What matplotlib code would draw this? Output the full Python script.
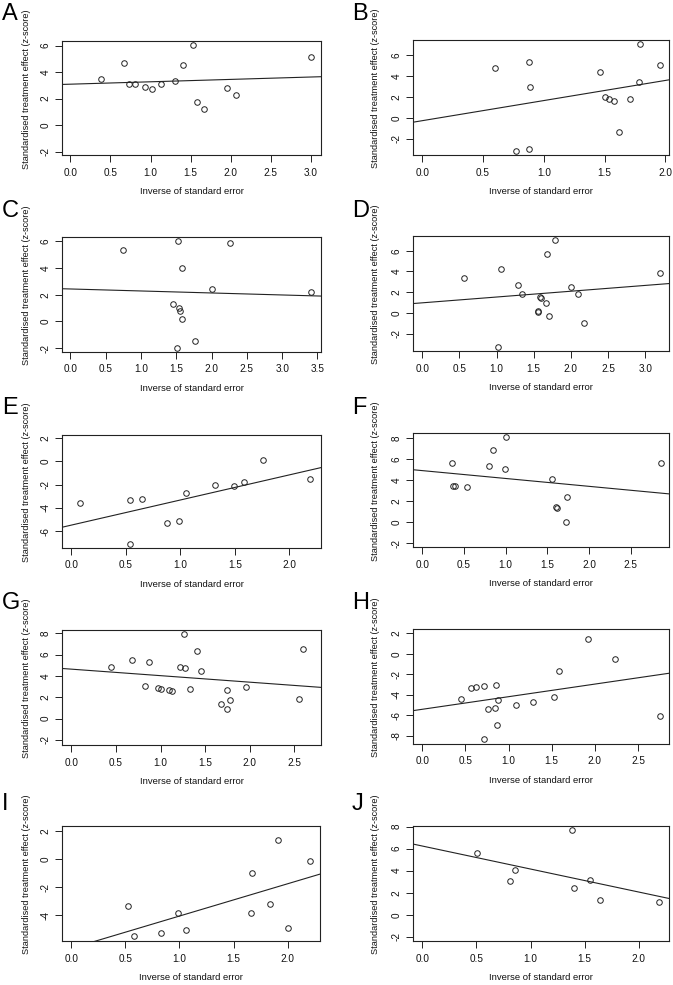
import matplotlib
matplotlib.use("Agg")
import matplotlib.pyplot as plt
from matplotlib.ticker import MultipleLocator

plt.rcParams['font.family'] = ['Liberation Sans', 'DejaVu Sans']

letters = ['A', 'B', 'C', 'D', 'E', 'F', 'G', 'H', 'I', 'J']

# inverse of standard error (x) and z-score (y) per panel
x_A = [0.38, 0.67, 0.73, 0.80, 0.93, 1.02, 1.13, 1.30, 1.40, 1.53, 1.58, 1.67, 1.95, 2.07, 3.00]
z_A = [3.47, 4.68, 3.14, 3.09, 2.87, 2.74, 3.12, 3.30, 4.50, 6.04, 1.74, 1.21, 2.84, 2.26, 5.16]

x_B = [0.60, 0.88, 0.89, 0.77, 0.88, 1.46, 1.50, 1.54, 1.58, 1.71, 1.62, 1.78, 1.79, 1.96]
z_B = [4.73, 5.27, 2.92, -3.11, -2.95, 4.32, 2.00, 1.84, 1.65, 1.81, -1.37, 3.40, 7.02, 5.05]

x_C = [0.75, 1.53, 1.58, 2.26, 2.01, 3.41, 1.46, 1.54, 1.56, 1.58, 1.76, 1.51]
z_C = [5.38, 6.00, 4.03, 5.88, 2.43, 2.18, 1.33, 1.00, 0.75, 0.20, -1.45, -1.98]

x_D = [0.56, 1.06, 1.29, 1.34, 1.56, 1.56, 1.58, 1.60, 1.68, 1.78, 1.67, 1.71, 2.00, 2.10, 2.18, 1.02, 3.20]
z_D = [3.32, 4.19, 2.68, 1.81, 0.16, 0.10, 1.58, 1.45, 5.68, 7.00, 0.94, -0.29, 2.45, 1.81, -1.00, -3.29, 3.84]

x_E = [0.08, 0.54, 0.65, 0.54, 0.88, 0.99, 1.05, 1.32, 1.49, 1.58, 1.76, 2.19]
z_E = [-3.56, -3.36, -3.28, -7.15, -5.28, -5.17, -2.70, -2.02, -2.16, -1.82, 0.14, -1.50]

x_F = [0.35, 0.37, 0.39, 0.54, 0.80, 0.85, 1.00, 0.99, 1.55, 1.60, 1.62, 1.74, 1.72, 2.86]
z_F = [5.65, 3.47, 3.44, 3.34, 5.34, 6.89, 8.09, 5.11, 4.11, 1.45, 1.35, 2.39, 0.03, 5.59]

x_G = [0.45, 0.68, 0.83, 0.87, 0.97, 1.01, 1.09, 1.13, 1.22, 1.26, 1.28, 1.33, 1.41, 1.45,
       1.68, 1.75, 1.75, 1.78, 1.96, 2.55, 2.60]
z_G = [4.88, 5.50, 3.08, 5.32, 2.86, 2.80, 2.68, 2.61, 4.88, 7.90, 4.75, 2.74, 6.32, 4.48,
       1.36, 2.68, 0.90, 1.77, 3.01, 1.86, 6.57]

x_H = [0.45, 0.56, 0.62, 0.71, 0.72, 0.76, 0.84, 0.85, 0.87, 0.88, 1.09, 1.28, 1.53, 1.59,
       1.92, 2.23, 2.76]
z_H = [-4.42, -3.34, -3.27, -3.17, -8.32, -5.39, -5.33, -3.02, -6.92, -4.48, -5.00, -4.74,
       -4.19, -1.65, 1.45, -0.47, -6.07]

x_I = [0.52, 0.58, 0.83, 0.99, 1.06, 1.66, 1.67, 1.84, 1.91, 2.00, 2.21]
z_I = [-3.34, -5.49, -5.28, -3.81, -5.00, -3.79, -0.95, -3.17, 1.36, -4.90, -0.15]

x_J = [0.51, 0.81, 0.86, 1.38, 1.40, 1.55, 1.64, 2.19]
z_J = [5.64, 3.09, 4.09, 7.70, 2.42, 3.18, 1.36, 1.12]

# fitted line (intercept, slope) per panel
intercepts = [3.09, -0.26, 2.43, 0.97, -5.49, 4.91, 4.64, -5.42, -6.34, 6.24]
slopes = [0.18, 1.91, -0.15, 0.56, 2.16, -0.75, -0.61, 1.23, 2.30, -2.09]

xs = [x_A, x_B, x_C, x_D, x_E, x_F, x_G, x_H, x_I, x_J]
zs = [z_A, z_B, z_C, z_D, z_E, z_F, z_G, z_H, z_I, z_J]

xlims = [(-0.104, 3.125), (-0.077, 2.03), (-0.118, 3.55), (-0.125, 3.32), (-0.086, 2.29),
         (-0.112, 2.96), (-0.105, 2.80), (-0.108, 2.86), (-0.087, 2.30), (-0.086, 2.28)]
ylims = [(-2.24, 6.34), (-3.52, 7.40), (-2.30, 6.33), (-3.68, 7.42), (-7.46, 2.26),
         (-2.38, 8.50), (-2.47, 8.31), (-8.81, 2.42), (-5.82, 2.38), (-2.39, 8.06)]

W, H = 673, 985
# axes boxes in pixels: left, top, right, bottom
boxes = [(62, 41, 321, 155), (413, 40, 669, 155),
         (62, 237, 321, 352), (413, 236, 669, 351),
         (62, 435, 321, 548), (413, 433, 669, 547),
         (62, 630, 321, 745), (413, 629, 669, 744),
         (62, 826, 320, 941), (413, 826, 669, 941)]
letter_tops = [3, 3, 200, 200, 397, 397, 592, 592, 793, 793]

ink = '#222222'
fig = plt.figure(figsize=(W / 100, H / 100), dpi=100)

for i in range(10):
    l, t, r, b = boxes[i]
    ax = fig.add_axes([l / W, 1 - b / H, (r - l) / W, (b - t) / H])
    ax.plot(xs[i], zs[i], 'o', ms=4.0, mfc='none', mec=ink, mew=0.7, clip_on=False)
    x0, x1 = xlims[i]
    ax.plot([x0, x1], [intercepts[i] + slopes[i] * x0, intercepts[i] + slopes[i] * x1],
            color=ink, lw=0.8)
    ax.set_xlim(xlims[i])
    ax.set_ylim(ylims[i])
    ax.xaxis.set_major_locator(MultipleLocator(0.5))
    ax.yaxis.set_major_locator(MultipleLocator(2))
    ax.xaxis.set_major_formatter(plt.FormatStrFormatter('%.1f'))
    ax.yaxis.set_major_formatter(plt.FormatStrFormatter('%d'))
    ax.tick_params(direction='out', length=5, width=0.7, color=ink, labelsize=7.2,
                   labelcolor='#111111')
    ax.tick_params(axis='x', pad=4)
    ax.tick_params(axis='y', pad=3, labelrotation=90)
    for lab in ax.get_yticklabels():
        lab.set_va('center')
    for sp in ax.spines.values():
        sp.set_color(ink)
        sp.set_linewidth(0.8)
    left = (i % 2 == 0)
    ax.set_ylabel('Standardised treatment effect (z-score)', fontsize=6.6, color='#111111')
    ax.yaxis.set_label_coords(-0.12 if left else -0.129, 0.58)
    ax.set_xlabel('Inverse of standard error', fontsize=6.8, color='#111111')
    ax.xaxis.set_label_coords(0.5, -0.28)
    fig.text((2 if left else 352) / W, 1 - letter_tops[i] / H, letters[i],
             fontsize=17, va='top', ha='left', color='black')

fig.savefig('out.png', dpi=100)
